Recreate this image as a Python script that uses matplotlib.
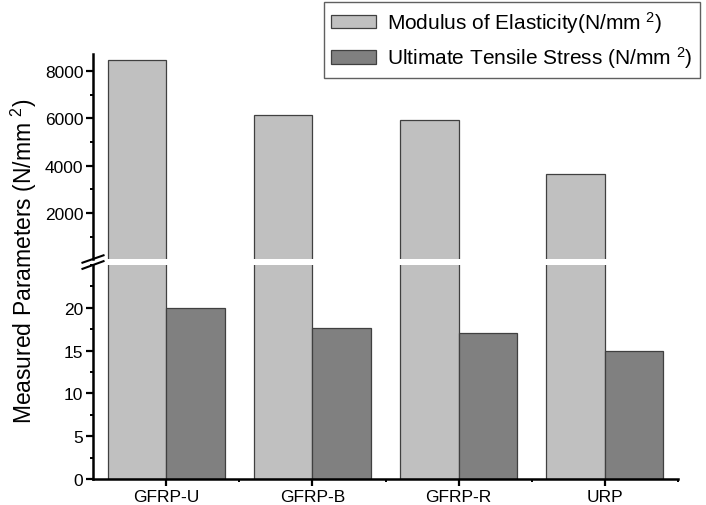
import numpy as np
import matplotlib
matplotlib.use("Agg")
import matplotlib.pyplot as plt
from matplotlib.ticker import FixedLocator, MultipleLocator

plt.rcParams["font.family"] = ["Liberation Sans", "DejaVu Sans"]
plt.rcParams["mathtext.fontset"] = "custom"
plt.rcParams["mathtext.rm"] = "Liberation Sans"
plt.rcParams["mathtext.default"] = "regular"

categories = ["GFRP-U", "GFRP-B", "GFRP-R", "URP"]
modulus = [8470, 6140, 5910, 3650]      # N/mm^2
uts = [20.0, 17.6, 17.0, 15.0]          # N/mm^2
upper_ticks = [2000, 4000, 6000, 8000]
lower_ticks = [0, 5, 10, 15, 20]

light = "#c0c0c0"
dark = "#808080"
edge = "#404040"

W, H = 706, 506
fig = plt.figure(figsize=(W / 100, H / 100), dpi=100)

left, right = 93 / W, 678 / W
ax_lo = fig.add_axes([left, 1 - 480 / H, right - left, (480 - 266) / H])
ax_hi = fig.add_axes([left, 1 - 260 / H, right - left, (260 - 55) / H])

x = np.arange(1, len(categories) + 1)
w = 0.4

for ax in (ax_lo, ax_hi):
    ax.bar(x - w / 2, modulus, w, color=light, edgecolor=edge, linewidth=0.9,
           label="Modulus of Elasticity(N/mm $^{2}$)")
    ax.bar(x + w / 2, uts, w, color=dark, edgecolor=edge, linewidth=0.9,
           label="Ultimate Tensile Stress (N/mm $^{2}$)")
    ax.set_xlim(0.5, 4.5)
    ax.spines["top"].set_visible(False)
    ax.spines["right"].set_visible(False)
    ax.spines["left"].set_linewidth(1.8)
    ax.spines["bottom"].set_linewidth(1.8)
    ax.tick_params(axis="both", which="major", direction="out", length=5,
                   width=1.6, labelsize=12.5, pad=2)
    ax.tick_params(axis="both", which="minor", direction="out", length=2.5,
                   width=1.4)

ax_lo.set_ylim(0, 25)
ax_lo.yaxis.set_major_locator(FixedLocator(lower_ticks))
ax_lo.yaxis.set_minor_locator(MultipleLocator(2.5))
ax_lo.set_xticks(x)
ax_lo.set_xticklabels(categories)
ax_lo.xaxis.set_minor_locator(FixedLocator([1.5, 2.5, 3.5, 4.5]))

ax_hi.set_ylim(50, 8720)
ax_hi.yaxis.set_major_locator(FixedLocator(upper_ticks))
ax_hi.yaxis.set_minor_locator(FixedLocator([1000, 3000, 5000, 7000]))
ax_hi.spines["bottom"].set_visible(False)
ax_hi.tick_params(axis="x", which="both", bottom=False, labelbottom=False)

# break marks on the y axis
d = 0.018
kw = dict(color="black", linewidth=1.5, clip_on=False)
ax_hi.plot([-d, d], [-0.018, 0.018], transform=ax_hi.transAxes, **kw)
ax_lo.plot([-d, d], [1 - 0.018, 1 + 0.018], transform=ax_lo.transAxes, **kw)

fig.text(0.034, 0.484, "Measured Parameters (N/mm $^{2}$)", rotation=90,
         ha="center", va="center", fontsize=16.5)

handles, labels = ax_hi.get_legend_handles_labels()
leg = fig.legend(handles, labels, loc="upper right",
                 bbox_to_anchor=(700 / W, 1 - 3 / H), bbox_transform=fig.transFigure,
                 fontsize=15, fancybox=False, framealpha=1, edgecolor="#606060",
                 handlelength=2.15, handleheight=0.62, handletextpad=0.55,
                 labelspacing=0.45, borderpad=0.35, borderaxespad=0)
leg.get_frame().set_linewidth(1.0)

fig.savefig("out.png", dpi=100)
